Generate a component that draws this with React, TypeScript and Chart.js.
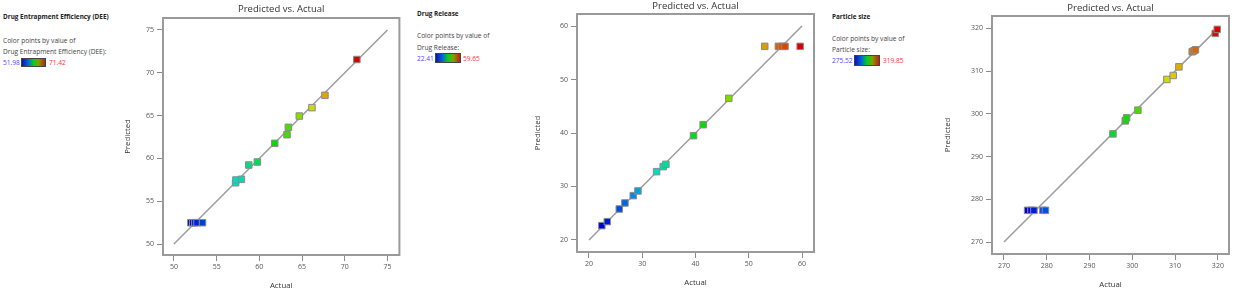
import React, { useEffect, useRef } from "react";
import { Chart, registerables } from "chart.js";

Chart.register(...registerables);

// ---------- data ----------
const CHART_TITLE = "Predicted vs. Actual";
const X_LABEL = "Actual";
const Y_LABEL = "Predicted";
const LEGEND_PREFIX = "Color points by value of";

const DEE_NAME = "Drug Entrapment Efficiency (DEE)";
const DEE_RANGE = [51.98, 71.42];
const DEE_TICKS = [50, 55, 60, 65, 70, 75];
const DEE_ACTUAL = [51.98, 52.2, 52.45, 52.7, 53.35, 57.22, 57.26, 57.9, 58.76, 59.77, 61.8, 63.24, 63.4, 64.68, 66.16, 67.68, 71.42];
const DEE_PREDICTED = [52.49, 52.49, 52.49, 52.49, 52.49, 57.16, 57.48, 57.56, 59.23, 59.58, 61.76, 62.77, 63.63, 64.95, 65.93, 67.37, 71.55];

const DR_NAME = "Drug Release";
const DR_RANGE = [22.41, 59.65];
const DR_TICKS = [20, 30, 40, 50, 60];
const DR_ACTUAL = [22.41, 23.44, 25.69, 26.75, 28.31, 29.19, 32.69, 33.94, 34.44, 39.63, 41.44, 46.25, 53.0, 55.56, 56.25, 56.8, 59.65];
const DR_PREDICTED = [22.68, 23.43, 25.79, 26.92, 28.29, 29.16, 32.77, 33.71, 34.14, 39.5, 41.56, 46.48, 56.2, 56.2, 56.2, 56.2, 56.2];

const PS_NAME = "Particle size";
const PS_RANGE = [275.52, 319.85];
const PS_TICKS = [270, 280, 290, 300, 310, 320];
const PS_ACTUAL = [275.52, 276.3, 277.0, 279.1, 279.7, 295.47, 298.35, 298.66, 301.3, 308.08, 309.56, 310.89, 314.0, 314.4, 314.75, 319.38, 319.85];
const PS_PREDICTED = [277.42, 277.42, 277.42, 277.42, 277.42, 295.31, 298.36, 299.06, 300.86, 308.05, 308.98, 311.0, 314.53, 314.75, 315.0, 318.83, 319.77];

// ---------- layout / style ----------
const FONT = "'Open Sans', 'Noto Sans', sans-serif";

type PanelCfg = {
  name: string;
  range: number[];
  ticks: number[];
  actual: number[];
  predicted: number[];
  canvasLeft: number;
  canvasW: number;
  yAxisW: number;
  xAxisH: number;
  padRight: number;
  titlePad: { top: number; bottom: number };
  xTitlePadBottom: number;
  xMin: number; xMax: number; yMin: number; yMax: number;
  legend: { x: number; nameY: number; l1Y: number; l2Y: number; rowY: number; barX: number; barW: number; barTop: number; barH: number; maxX: number };
};

const PANELS: PanelCfg[] = [
  {
    name: DEE_NAME, range: DEE_RANGE, ticks: DEE_TICKS, actual: DEE_ACTUAL, predicted: DEE_PREDICTED,
    canvasLeft: 110, canvasW: 295, yAxisW: 53, xAxisH: 40, padRight: 5,
    titlePad: { top: 4, bottom: 2.6 }, xTitlePadBottom: 5,
    xMin: 48.72, xMax: 76.4, yMin: 48.72, yMax: 76.4,
    legend: { x: 3, nameY: 17, l1Y: 41, l2Y: 52, rowY: 62.5, barX: 21, barW: 25, barTop: 58, barH: 9, maxX: 49 },
  },
  {
    name: DR_NAME, range: DR_RANGE, ticks: DR_TICKS, actual: DR_ACTUAL, predicted: DR_PREDICTED,
    canvasLeft: 520, canvasW: 300, yAxisW: 57, xAxisH: 43, padRight: 6,
    titlePad: { top: 1, bottom: 1.6 }, xTitlePadBottom: 8,
    xMin: 17.75, xMax: 62.25, yMin: 17.75, yMax: 62.25,
    legend: { x: 417, nameY: 14, l1Y: 36, l2Y: 48, rowY: 58.5, barX: 435, barW: 26, barTop: 53, barH: 10, maxX: 463 },
  },
  {
    name: PS_NAME, range: PS_RANGE, ticks: PS_TICKS, actual: PS_ACTUAL, predicted: PS_PREDICTED,
    canvasLeft: 930, canvasW: 305, yAxisW: 62, xAxisH: 41, padRight: 6,
    titlePad: { top: 3, bottom: 1.6 }, xTitlePadBottom: 5.5,
    xMin: 267.2, xMax: 322.6, yMin: 267.2, yMax: 322.9,
    legend: { x: 832, nameY: 17, l1Y: 39, l2Y: 50, rowY: 60.5, barX: 854, barW: 26, barTop: 55, barH: 11, maxX: 883 },
  },
];

function rampColor(v: number, lo: number, hi: number) {
  const t = Math.max(0, Math.min(1, (v - lo) / (hi - lo)));
  const h = 240 * (1 - t);
  return `hsl(${h.toFixed(1)}, 100%, 43%)`;
}

const framePlugin = {
  id: "frame",
  beforeDatasetsDraw(chart: any) {
    const { ctx, chartArea: a } = chart;
    ctx.save();
    ctx.strokeStyle = "#9a9a9a";
    ctx.lineWidth = 2;
    ctx.strokeRect(a.left, a.top, a.right - a.left, a.bottom - a.top);
    ctx.restore();
  },
};

function Panel({ cfg }: { cfg: PanelCfg }) {
  const ref = useRef<HTMLCanvasElement>(null);
  useEffect(() => {
    const lo = cfg.ticks[0];
    const hi = cfg.ticks[cfg.ticks.length - 1];
    const points = cfg.actual.map((x, i) => ({ x, y: cfg.predicted[i] }));
    const colors = cfg.actual.map((v) => rampColor(v, cfg.range[0], cfg.range[1]));
    const tickFont = { family: FONT, size: 7 };
    const axisCommon = (isX: boolean) => ({
      type: "linear" as const,
      afterBuildTicks: (scale: any) => {
        scale.ticks = cfg.ticks.map((v) => ({ value: v }));
      },
      afterFit: (scale: any) => {
        if (isX) scale.height = cfg.xAxisH;
        else scale.width = cfg.yAxisW;
      },
      grid: { display: true, drawOnChartArea: false, drawTicks: true, tickLength: 6, color: "#8a8a8a", lineWidth: 1 },
      border: { display: false },
      ticks: { font: tickFont, color: "#555", padding: isX ? 2 : 3, autoSkip: false, maxRotation: 0, callback: (v: any) => String(v) },
    });
    const chart = new Chart(ref.current!, {
      type: "scatter",
      data: {
        datasets: [
          {
            type: "scatter",
            data: points,
            pointStyle: "rect",
            pointRadius: 4.6,
            backgroundColor: colors,
            borderColor: "#8c8c8c",
            borderWidth: 1,
            order: 1,
          },
          {
            type: "line",
            data: [{ x: lo, y: lo }, { x: hi, y: hi }],
            borderColor: "#9c9c9c",
            borderWidth: 1.5,
            pointRadius: 0,
            showLine: true,
            fill: false,
            order: 2,
          } as any,
        ],
      },
      options: {
        animation: false,
        responsive: false,
        devicePixelRatio: 1,
        layout: { padding: { left: 0, right: cfg.padRight, top: 0, bottom: 0 } },
        plugins: {
          legend: { display: false },
          tooltip: { enabled: false },
          title: {
            display: true,
            text: CHART_TITLE,
            fullSize: false,
            color: "#333",
            font: { family: FONT, size: 9.5, weight: "normal", lineHeight: 1.2 },
            padding: cfg.titlePad,
          },
        },
        scales: {
          x: {
            ...axisCommon(true),
            position: "bottom",
            min: cfg.xMin,
            max: cfg.xMax,
            title: {
              display: true,
              text: X_LABEL,
              color: "#333",
              font: { family: FONT, size: 7.8, lineHeight: 1.2 },
              padding: { top: 0, bottom: cfg.xTitlePadBottom },
            },
          },
          y: {
            ...axisCommon(false),
            position: "left",
            min: cfg.yMin,
            max: cfg.yMax,
            title: {
              display: true,
              text: Y_LABEL,
              color: "#333",
              font: { family: FONT, size: 7.8, lineHeight: 1.2 },
              padding: { top: 13.3, bottom: 0 },
            },
          },
        },
      } as any,
      plugins: [framePlugin],
    });
    return () => chart.destroy();
  }, [cfg]);

  const L = cfg.legend;
  const txt = (top: number, left: number, extra: React.CSSProperties = {}) => ({
    position: "absolute" as const,
    left,
    top: top - 5,
    lineHeight: "10px",
    fontSize: 6.6,
    fontFamily: FONT,
    whiteSpace: "nowrap" as const,
    color: "#444",
    ...extra,
  });
  return (
    <>
      <canvas
        ref={ref}
        width={cfg.canvasW}
        height={295}
        style={{ position: "absolute", left: cfg.canvasLeft, top: 0, width: cfg.canvasW, height: 295 }}
      />
      <div style={txt(L.nameY, L.x, { fontWeight: 700, color: "#222", fontSize: 6.4 })}>{cfg.name}</div>
      <div style={txt(L.l1Y, L.x)}>{LEGEND_PREFIX}</div>
      <div style={txt(L.l2Y, L.x)}>{cfg.name}:</div>
      <div style={txt(L.rowY, L.x, { color: "#4a4aff" })}>{cfg.range[0].toFixed(2)}</div>
      <div
        style={{
          position: "absolute",
          left: L.barX,
          top: L.barTop,
          width: L.barW,
          height: L.barH,
          boxSizing: "border-box",
          border: "1px solid #444",
          background: "linear-gradient(to right, #1010b0, #0060e0 25%, #00d020 50%, #80a000 72%, #c02010)",
        }}
      />
      <div style={txt(L.rowY, L.maxX, { color: "#ff3030" })}>{cfg.range[1].toFixed(2)}</div>
    </>
  );
}

export default function App() {
  return (
    <div style={{ position: "absolute", left: 0, top: 0, width: 1235, height: 295, background: "#fff", overflow: "hidden" }}>
      {PANELS.map((p, i) => (
        <Panel key={i} cfg={p} />
      ))}
    </div>
  );
}
